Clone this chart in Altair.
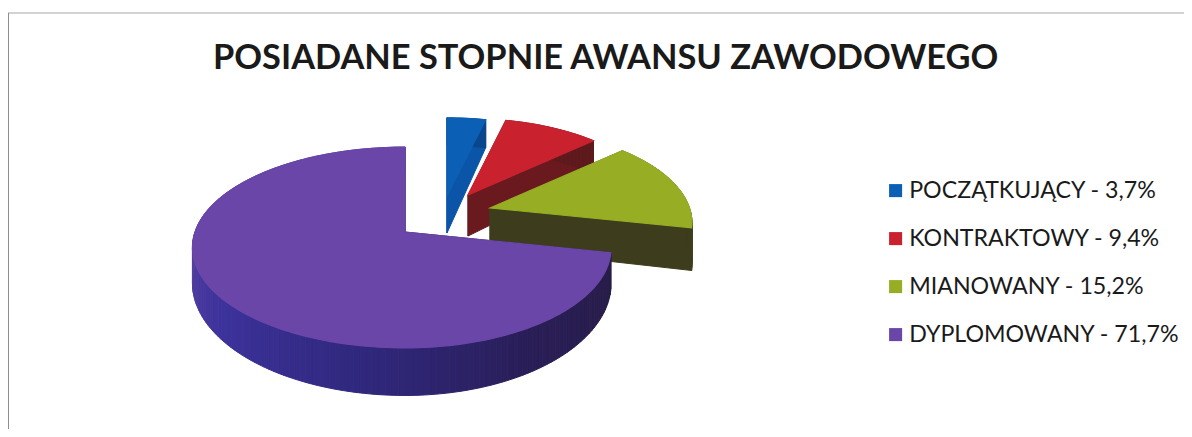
import math
import altair as alt

NAMES = ["POCZĄTKUJĄCY", "KONTRAKTOWY", "MIANOWANY", "DYPLOMOWANY"]
SHARES = [3.7, 9.4, 15.2, 71.7]
TOP_COLORS = ["#0b5fb5", "#c9222e", "#97ae24", "#6a46a8"]
FACE_COLORS = ["#0a55a8", "#6a1a1e", "#3d3d1e", "#2a2048"]
# rim shading: (clockwise degrees from 12 o'clock, rgb)
RIM_STOPS = [
    [(0, (10, 70, 140)), (360, (10, 70, 140))],
    [(0, (95, 26, 30)), (360, (95, 26, 30))],
    [(0, (62, 62, 30)), (360, (62, 62, 30))],
    [(0, (40, 30, 70)), (102, (40, 30, 70)), (150, (42, 30, 88)), (190, (48, 40, 125)),
     (230, (60, 50, 155)), (270, (86, 66, 160)), (360, (86, 66, 160))],
]
# drawing layout of the exploded slices: apex on the page, size factor, depth
APEX = [(439, 188), (460, 187), (482, 200), (397, 224)]
SIZE = [0.92, 0.90, 0.95, 1.0]
RIGHT = [1.0, 1.0, 1.0, 0.97]
DEPTH = [37, 41, 40, 34]
RX, RY, PERSP = 210, 98, 0.1545
W, H = 1176, 421


def project(t, s, apex, right=1.0):
    u, v = math.sin(math.radians(t)), math.cos(math.radians(t))
    w = 1 + PERSP * v
    fx = right if u > 0 else 1.0
    return (apex[0] + s * fx * RX * u / w, apex[1] - s * RY * v / w, w)


def rim_color(stops, t):
    for (a, ca), (b, cb) in zip(stops, stops[1:]):
        if a <= t <= b:
            f = (t - a) / (b - a) if b > a else 0
            return "#%02x%02x%02x" % tuple(round(x + (y - x) * f) for x, y in zip(ca, cb))
    return "#%02x%02x%02x" % stops[-1][1]


def poly(points, fill):
    ring = [[round(x, 2), round(y, 2)] for x, y in points]
    ring.append(ring[0])
    return {"type": "Feature", "properties": {"c": fill},
            "geometry": {"type": "Polygon", "coordinates": [ring]}}


proj = alt.Projection(type="identity", scale=1, translate=[0, 0])


def shape_data(features):
    return alt.Data(values={"type": "FeatureCollection", "features": features},
                    format=alt.DataFormat(type="json", property="features"))


labels = [f"{n} - {str(s).replace('.', ',')}%" for n, s in zip(NAMES, SHARES)]
layers = []
start = 0.0
for i, share in enumerate(SHARES):
    end = start + share / 100 * 360
    n = max(4, int((end - start) / 1.5))
    ts = [start + (end - start) * k / n for k in range(n + 1)]
    ap, s, d, rt = APEX[i], SIZE[i], DEPTH[i], RIGHT[i]
    side = []
    # cut faces
    for t in (start, end):
        x, y, w = project(t, s, ap, rt)
        side.append(poly([ap, (x, y), (x, y + d / w ** 2), (ap[0], ap[1] + d)], FACE_COLORS[i]))
    # outer rim
    for a, b in zip(ts, ts[1:]):
        x0, y0, w0 = project(a, s, ap, rt)
        x1, y1, w1 = project(b, s, ap, rt)
        side.append(poly([(x0, y0), (x1, y1), (x1, y1 + d / w1 ** 2), (x0, y0 + d / w0 ** 2)],
                         rim_color(RIM_STOPS[i], (a + b) / 2)))
    top = [ap] + [project(t, s, ap, rt)[:2] for t in ts]
    layers.append(
        alt.Chart(shape_data(side)).mark_geoshape(strokeWidth=1.0).encode(
            fill=alt.Fill("properties.c:N", scale=None),
            stroke=alt.Stroke("properties.c:N", scale=None),
        ).project(**proj.to_dict())
    )
    feat = poly(top, TOP_COLORS[i])
    feat["properties"]["label"] = labels[i]
    layers.append(
        alt.Chart(shape_data([feat])).mark_geoshape(stroke=TOP_COLORS[i], strokeWidth=1.2).encode(
            color=alt.Color(
                "properties.label:N", title=None,
                scale=alt.Scale(domain=labels, range=TOP_COLORS),
                legend=alt.Legend(
                    orient="none", legendX=876, legendY=171, symbolType="square",
                    symbolSize=170, symbolStrokeWidth=0, labelFontSize=23.2, labelFont="Lato",
                    labelColor="#1a1a1a", rowPadding=24, labelLimit=320, labelOffset=2,
                    symbolOffset=0,
                ),
            )
        ).project(**proj.to_dict())
    )
    start = end

frame_top = alt.Chart({"values": [{"a": 0}]}).mark_rule(color="#d2d2d2", strokeWidth=2).encode(
    x=alt.value(0), x2=alt.value(W), y=alt.value(5))
frame_left = alt.Chart({"values": [{"a": 0}]}).mark_rule(color="#8f8f8f", strokeWidth=2).encode(
    x=alt.value(0), y=alt.value(5), y2=alt.value(H))

chart = alt.layer(frame_top, frame_left, *layers).properties(
    width=W, height=H, padding=0, autosize=alt.AutoSizeParams(type="none"),
    title=alt.Title("POSIADANE STOPNIE AWANSU ZAWODOWEGO", font="Lato", fontSize=34.4,
                    fontWeight="bold", color="#1a1a1a", anchor="start", frame="group",
                    dx=205, dy=95, baseline="alphabetic", offset=0),
).configure_view(stroke=None).resolve_scale(color="shared")

chart.save("out.html", embed_options={"renderer": "svg", "actions": False})
